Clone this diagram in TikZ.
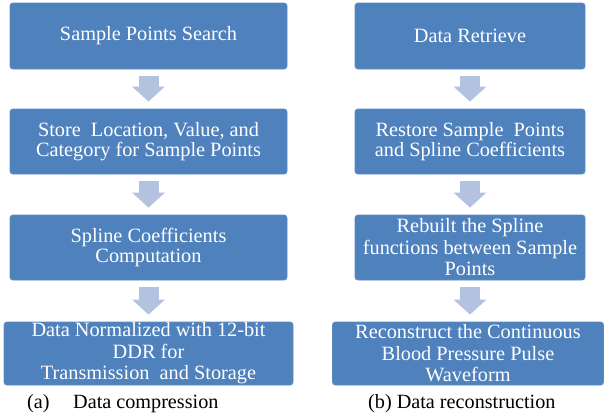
\documentclass[tikz,border=0pt]{standalone}
\usepackage{fontspec}
\setmainfont{Liberation Serif}
\usetikzlibrary{arrows.meta}
\definecolor{boxblue}{HTML}{4F81BD}
\definecolor{boxedge}{HTML}{5A8AC4}
\definecolor{arrowblue}{HTML}{B3C3DF}
\begin{document}
\begin{tikzpicture}[x=1pt,y=-1pt,
  stepbox/.style={draw=boxedge, line width=0.8pt, fill=boxblue, rounded corners=3pt,
    text=white, align=center, inner sep=0pt,
    font=\fontsize{20.3}{20.5}\selectfont},
  tallbox/.style={stepbox, font=\fontsize{20.3}{21.5}\selectfont},
  flowarrow/.style={draw=arrowblue, line width=20pt,
    -{Triangle[width=32pt,length=15pt]}, shorten <=7pt, shorten >=7pt},
  caption/.style={font=\fontsize{20.2}{21}\selectfont, inner sep=0pt, anchor=base west}]
\useasboundingbox (0,0) rectangle (604,415);
% left column
\node[stepbox, minimum width=277pt, minimum height=66pt] (a1) at (148.5,36) {Sample Points Search};
\node[stepbox, minimum width=277pt, minimum height=65pt] (a2) at (148.5,141.5) {Store\ \ Location, Value, and\\Category for Sample Points};
\node[stepbox, minimum width=277pt, minimum height=65pt] (a3) at (148.5,247.5) {Spline Coefficients\\Computation};
\node[tallbox, minimum width=289pt, minimum height=63pt] (a4) at (148.5,353.5) {Data Normalized with 12-bit\\DDR for\\Transmission\ \ and Storage};
\draw[flowarrow] (a1) -- (a2);
\draw[flowarrow] (a2) -- (a3);
\draw[flowarrow] (a3.south) -- (a3.south |- a4.north);
% right column
\node[stepbox, minimum width=230pt, minimum height=66pt] (b1) at (470,36) {Data Retrieve};
\node[stepbox, minimum width=230pt, minimum height=65pt] (b2) at (470,141.5) {Restore Sample\ \ Points\\and Spline Coefficients};
\node[tallbox, minimum width=230pt, minimum height=65pt] (b3) at (470,247.5) {Rebuilt the Spline\\functions between Sample\\Points};
\node[tallbox, minimum width=271pt, minimum height=63pt] (b4) at (468,353.5) {Reconstruct the Continuous\\Blood Pressure Pulse\\Waveform};
\draw[flowarrow] (b1) -- (b2);
\draw[flowarrow] (b2) -- (b3);
\draw[flowarrow] (b3.south) -- (b3.south |- b4.north);
% captions
\node[caption] (ca) at (27,408) {(a)};
\node[caption] (cb) at (73,408) {Data compression};
\node[caption] (cc) at (368,408) {(b) Data reconstruction};
\end{tikzpicture}
\end{document}
